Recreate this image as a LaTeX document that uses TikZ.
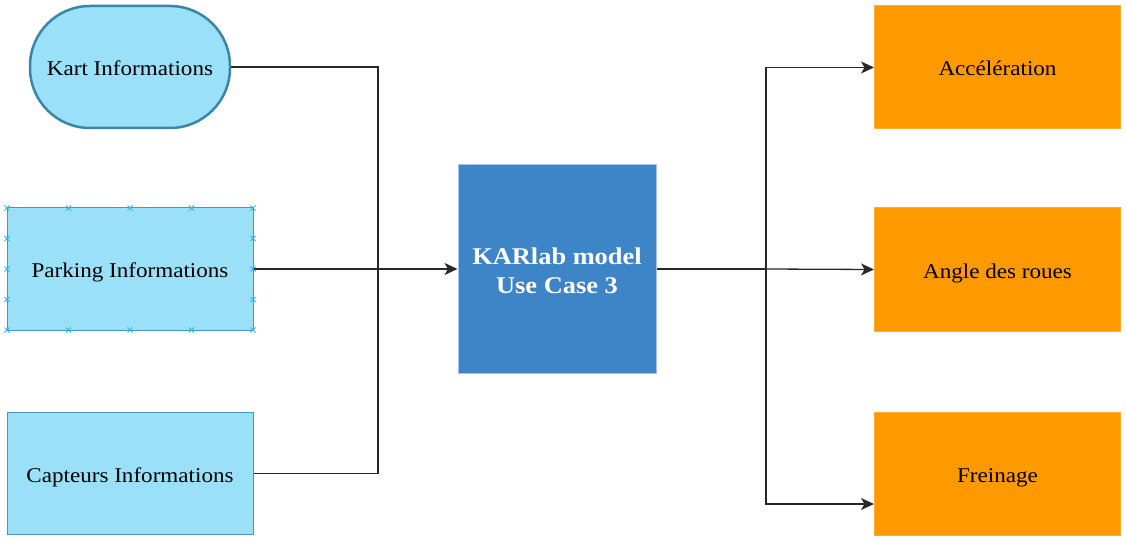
\documentclass[tikz,border=0pt]{standalone}
\usepackage{fontspec}
\setmainfont{Liberation Serif}[FakeStretch=1.1]
\usetikzlibrary{arrows.meta,calc}
\definecolor{infofill}{RGB}{154,224,248}
\definecolor{infoedge}{RGB}{74,150,184}
\definecolor{kartedge}{RGB}{58,134,166}
\definecolor{modelfill}{RGB}{61,133,198}
\definecolor{modeledge}{RGB}{169,196,235}
\definecolor{outfill}{RGB}{255,153,0}
\definecolor{linecol}{RGB}{40,40,40}
\definecolor{handle}{RGB}{41,182,242}
\tikzset{
  boxtext/.style={font=\fontsize{21}{24}\selectfont, text height=17pt, text depth=0pt},
  infobox/.style={boxtext, draw=infoedge, line width=1pt, fill=infofill, minimum width=246pt, minimum height=122pt, inner sep=0pt},
  kartbox/.style={boxtext, draw=kartedge, line width=2.5pt, fill=infofill, rounded corners=60pt, minimum width=200pt, minimum height=122pt, inner sep=0pt},
  modelbox/.style={draw=modeledge, line width=1pt, fill=modelfill, minimum width=198pt, minimum height=208pt, inner sep=0pt, text=white, align=center, font=\bfseries\fontsize{24}{29}\selectfont, text height=48pt, text depth=0pt},
  outbox/.style={boxtext, draw=outfill!80!white, line width=1pt, fill=outfill, minimum width=246pt, minimum height=123pt, inner sep=0pt},
  conn/.style={draw=linecol, line width=1.3pt},
  arr/.style={conn, -{Stealth[length=13pt,width=12pt,inset=3.5pt]}},
  handlemark/.style={handle, line width=1pt}
}
\begin{document}
\begin{tikzpicture}[x=1pt,y=-1pt]
\useasboundingbox (0,0) rectangle (1127,548);
\node[kartbox] (kart) at (130,67) {Kart Informations};
\node[infobox] (parking) at (130,269) {Parking Informations};
\node[infobox] (capteurs) at (130,473.5) {Capteurs Informations};
\node[modelbox] (model) at (557,269) {KARlab model\\Use Case 3};
\node[outbox] (accel) at (997.5,67.5) {Accélération};
\node[outbox] (angle) at (997.5,269.5) {Angle des roues};
\node[outbox] (frein) at (997.5,473.5) {Freinage};
% handles on parking box
\foreach \px in {7,68.5,130,191.5,253}{
  \foreach \py in {208,330}{
    \draw[handlemark] (\px-2.5,\py-2.5) -- (\px+2.5,\py+2.5) (\px-2.5,\py+2.5) -- (\px+2.5,\py-2.5);
  }
}
\foreach \px in {7,253}{
  \foreach \py in {238.5,269,299.5}{
    \draw[handlemark] (\px-2.5,\py-2.5) -- (\px+2.5,\py+2.5) (\px-2.5,\py+2.5) -- (\px+2.5,\py-2.5);
  }
}
\coordinate (jl) at (378,269);
\coordinate (jr) at (766,269);
\coordinate (freinin) at ($(frein.south west)+(0,-31.5)$);
\draw[conn] (kart.east) -| (jl);
\draw[conn] (capteurs.east) -| (jl);
\draw[arr] (parking.east) -- (model.west);
\draw[conn] (model.east) -- (jr);
\draw[arr] (jr) |- (accel.west);
\draw[arr] (jr) -- (angle.west);
\draw[arr] (jr) |- (freinin);
\end{tikzpicture}
\end{document}
